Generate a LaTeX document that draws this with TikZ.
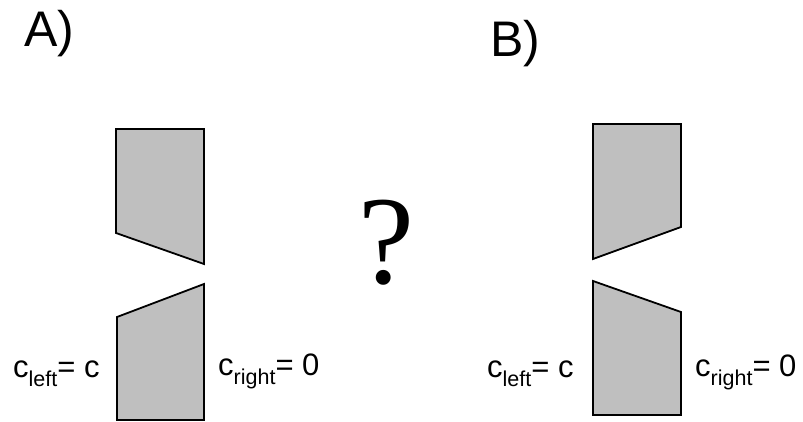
\documentclass[tikz,border=0pt]{standalone}
\usepackage{fontspec}
\setmainfont{Liberation Sans}
\newfontfamily\qfont{Liberation Serif}
\tikzset{
  block/.style={draw=black, fill=gray!50!white, line width=1.8pt, line join=miter},
  lbl/.style={inner sep=0pt, anchor=base west, font=\fontsize{31}{31}\selectfont},
  panel/.style={inner sep=0pt, anchor=base west, font=\fontsize{50}{50}\selectfont}
}
\newcommand{\subtxt}[1]{\raisebox{-9pt}{\fontsize{21.5}{21.5}\selectfont #1}}
\begin{document}
\begin{tikzpicture}[x=1pt,y=-1pt]
\useasboundingbox (0,0) rectangle (803,422);
% panel labels
\node[panel] (la) at (24,47) {A)};
\node[panel] (lb) at (490,57) {B)};
% A shapes
\path[block] (116,129) -- (204,129) -- (204,264) -- (116,233) -- cycle;
\path[block] (117,317) -- (204,284) -- (204,420) -- (117,420) -- cycle;
% B shapes
\path[block] (593,124) -- (681,124) -- (681,227) -- (593,259) -- cycle;
\path[block] (593,281) -- (681,312) -- (681,415) -- (593,415) -- cycle;
% boundary labels
\node[lbl] (cla) at (13,377) {c\subtxt{left}= c};
\node[lbl] (cra) at (218,375) {c\subtxt{right}= 0};
\node[lbl] (clb) at (487,377) {c\subtxt{left}= c};
\node[lbl] (crb) at (695,376) {c\subtxt{right}= 0};
% question mark
\node[inner sep=0pt, anchor=base west, font=\qfont\fontsize{126}{126}\selectfont] (q) at (358,283) {?};
\end{tikzpicture}
\end{document}
